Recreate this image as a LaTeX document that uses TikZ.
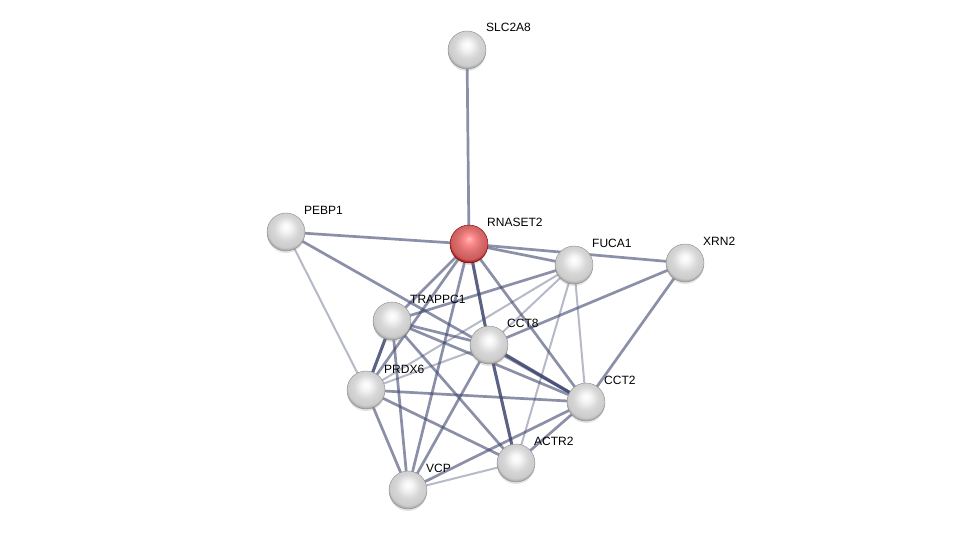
\documentclass[tikz,border=0pt]{standalone}
\usepackage{fontspec}
\setmainfont{Liberation Sans}
\usetikzlibrary{backgrounds,shadows}
\definecolor{edgecol}{RGB}{62,70,110}
\pgfdeclareradialshading{greysphere}{\pgfpoint{0bp}{7bp}}{color(0bp)=(white); color(6bp)=(white!96!black); color(16bp)=(white!84!black); color(24bp)=(white!80!black); color(28bp)=(white!62!black); color(50bp)=(white!62!black)}
\pgfdeclareradialshading{redsphere}{\pgfpoint{0bp}{7bp}}{color(0bp)=(red!25!white); color(6bp)=(red!45!white); color(16bp)=(red!50!white!85!black); color(24bp)=(red!55!white!80!black); color(28bp)=(red!60!black); color(50bp)=(red!60!black)}
\tikzset{
  prot/.style={circle, minimum size=38pt, inner sep=0pt, shading=greysphere, draw=white!55!black, line width=0.4pt,
    drop shadow={opacity=0.22, shadow xshift=0pt, shadow yshift=-2pt}},
  query/.style={prot, shading=redsphere, draw=red!45!black},
  lab/.style={anchor=base west, font=\fontsize{12}{14}\selectfont, text=black, inner sep=0pt},
  elight/.style={draw=edgecol, line width=2pt, opacity=0.38},
  emed/.style={draw=edgecol, line width=2.7pt, opacity=0.6},
  edark/.style={draw=edgecol, line width=3.1pt, opacity=0.85},
}
\begin{document}
\begin{tikzpicture}[x=1pt,y=-1pt]
\useasboundingbox (0,0) rectangle (975,535);
\node[prot] (slc) at (467,50) {};
\node[prot] (pebp) at (286,232) {};
\node[query] (rna) at (469,244) {};
\node[prot] (fuca) at (574,265) {};
\node[prot] (xrn) at (685,263) {};
\node[prot] (trap) at (392,321) {};
\node[prot] (cct8) at (489,345) {};
\node[prot] (prdx) at (366,390) {};
\node[prot] (cct2) at (586,402) {};
\node[prot] (actr) at (516,463) {};
\node[prot] (vcp) at (408,490) {};
\node[lab] (lslc) at (486,32) {SLC2A8};
\node[lab] (lpebp) at (304,214) {PEBP1};
\node[lab] (lrna) at (487,226) {RNASET2};
\node[lab] (lfuca) at (592,247) {FUCA1};
\node[lab] (lxrn) at (703,245) {XRN2};
\node[lab] (ltrap) at (410,303) {TRAPPC1};
\node[lab] (lcct8) at (507,327) {CCT8};
\node[lab] (lprdx) at (384,373) {PRDX6};
\node[lab] (lcct2) at (604,384) {CCT2};
\node[lab] (lactr) at (534,445) {ACTR2};
\node[lab] (lvcp) at (426,472) {VCP};
\begin{pgfonlayer}{background}
\draw[emed] (slc.center) -- (rna.center);
\draw[emed] (pebp.center) -- (rna.center);
\draw[emed] (pebp.center) -- (cct2.center);
\draw[elight] (pebp.center) -- (prdx.center);
\draw[emed] (rna.center) -- (fuca.center);
\draw[emed] (rna.center) -- (xrn.center);
\draw[emed] (rna.center) -- (trap.center);
\draw[edark] (rna.center) -- (cct8.center);
\draw[emed] (rna.center) -- (cct2.center);
\draw[emed] (rna.center) -- (prdx.center);
\draw[emed] (rna.center) -- (vcp.center);
\draw[emed] (fuca.center) -- (trap.center);
\draw[elight] (fuca.center) -- (cct8.center);
\draw[elight] (fuca.center) -- (prdx.center);
\draw[elight] (fuca.center) -- (cct2.center);
\draw[elight] (fuca.center) -- (actr.center);
\draw[emed] (xrn.center) -- (cct8.center);
\draw[emed] (xrn.center) -- (cct2.center);
\draw[edark] (trap.center) -- (prdx.center);
\draw[emed] (trap.center) -- (cct8.center);
\draw[emed] (trap.center) -- (cct2.center);
\draw[emed] (trap.center) -- (actr.center);
\draw[emed] (trap.center) -- (vcp.center);
\draw[elight] (cct8.center) -- (prdx.center);
\draw[edark] (cct8.center) -- (cct2.center);
\draw[edark] (cct8.center) -- (actr.center);
\draw[emed] (cct8.center) -- (vcp.center);
\draw[emed] (prdx.center) -- (cct2.center);
\draw[emed] (prdx.center) -- (actr.center);
\draw[emed] (prdx.center) -- (vcp.center);
\draw[emed] (cct2.center) -- (actr.center);
\draw[emed] (cct2.center) -- (vcp.center);
\draw[elight] (actr.center) -- (vcp.center);
\end{pgfonlayer}
\end{tikzpicture}
\end{document}
